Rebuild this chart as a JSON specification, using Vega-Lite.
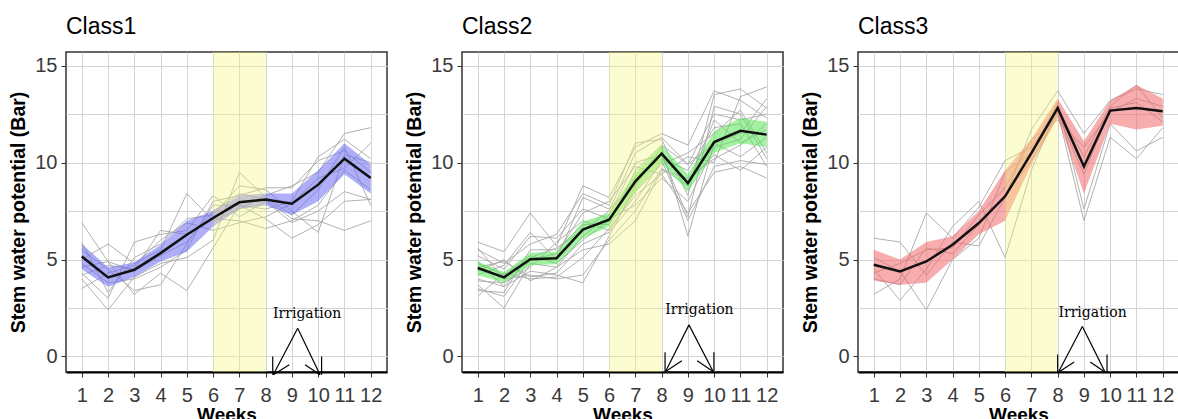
{
"$schema":"https://vega.github.io/schema/vega-lite/v6.json",
"background":"white",
"padding":{"left":8,"top":15,"right":0,"bottom":0},
"spacing":75,
"bounds":"flush",
"config":{
 "font":"Liberation Sans",
 "view":{"stroke":"#333333","strokeWidth":1.5},
 "title":{"fontSize":23,"fontWeight":"normal","color":"#000","anchor":"start","frame":"group","baseline":"bottom","offset":13,"font":"Liberation Sans"},
 "axisX":{"labelFontSize":20,"labelColor":"#3a3a3a","tickColor":"#333","tickSize":5,"labelPadding":8,"labelOverlap":false,"labelFlush":false,"titleFontSize":19,"titleFontWeight":"bold","titleColor":"#000","titlePadding":0,"gridColor":"#d4d4d4","domainColor":"#000","domainWidth":2},
 "axisY":{"labelFontSize":20,"labelColor":"#3a3a3a","tickColor":"#333","tickSize":5,"labelPadding":4,"titleFontSize":19.5,"titleFontWeight":"bold","titleColor":"#000","titlePadding":6,"gridColor":"#d4d4d4","domain":false}
},
"datasets":{"d":[
{"c":"Class1","k":"t","t":"a","w":1,"v":6.9},{"c":"Class1","k":"t","t":"a","w":2,"v":4.9},{"c":"Class1","k":"t","t":"a","w":3,"v":4.4},{"c":"Class1","k":"t","t":"a","w":4,"v":5.2},{"c":"Class1","k":"t","t":"a","w":5,"v":5.9},{"c":"Class1","k":"t","t":"a","w":6,"v":7.5},{"c":"Class1","k":"t","t":"a","w":7,"v":8.4},{"c":"Class1","k":"t","t":"a","w":8,"v":8.1},{"c":"Class1","k":"t","t":"a","w":9,"v":7.1},{"c":"Class1","k":"t","t":"a","w":10,"v":7.0},{"c":"Class1","k":"t","t":"a","w":11,"v":6.5},{"c":"Class1","k":"t","t":"a","w":12,"v":7.0},
{"c":"Class1","k":"t","t":"b","w":1,"v":5.0},{"c":"Class1","k":"t","t":"b","w":2,"v":5.8},{"c":"Class1","k":"t","t":"b","w":3,"v":4.8},{"c":"Class1","k":"t","t":"b","w":4,"v":5.5},{"c":"Class1","k":"t","t":"b","w":5,"v":8.4},{"c":"Class1","k":"t","t":"b","w":6,"v":7.0},{"c":"Class1","k":"t","t":"b","w":7,"v":7.6},{"c":"Class1","k":"t","t":"b","w":8,"v":8.3},{"c":"Class1","k":"t","t":"b","w":9,"v":8.8},{"c":"Class1","k":"t","t":"b","w":10,"v":9.5},{"c":"Class1","k":"t","t":"b","w":11,"v":11.5},{"c":"Class1","k":"t","t":"b","w":12,"v":11.8},
{"c":"Class1","k":"t","t":"c","w":1,"v":4.3},{"c":"Class1","k":"t","t":"c","w":2,"v":3.0},{"c":"Class1","k":"t","t":"c","w":3,"v":5.9},{"c":"Class1","k":"t","t":"c","w":4,"v":6.3},{"c":"Class1","k":"t","t":"c","w":5,"v":6.5},{"c":"Class1","k":"t","t":"c","w":6,"v":8.3},{"c":"Class1","k":"t","t":"c","w":7,"v":7.2},{"c":"Class1","k":"t","t":"c","w":8,"v":8.0},{"c":"Class1","k":"t","t":"c","w":9,"v":6.9},{"c":"Class1","k":"t","t":"c","w":10,"v":7.5},{"c":"Class1","k":"t","t":"c","w":11,"v":8.5},{"c":"Class1","k":"t","t":"c","w":12,"v":8.1},
{"c":"Class1","k":"t","t":"d","w":1,"v":4.0},{"c":"Class1","k":"t","t":"d","w":2,"v":2.4},{"c":"Class1","k":"t","t":"d","w":3,"v":4.1},{"c":"Class1","k":"t","t":"d","w":4,"v":4.8},{"c":"Class1","k":"t","t":"d","w":5,"v":5.1},{"c":"Class1","k":"t","t":"d","w":6,"v":6.0},{"c":"Class1","k":"t","t":"d","w":7,"v":9.5},{"c":"Class1","k":"t","t":"d","w":8,"v":8.2},{"c":"Class1","k":"t","t":"d","w":9,"v":7.3},{"c":"Class1","k":"t","t":"d","w":10,"v":8.6},{"c":"Class1","k":"t","t":"d","w":11,"v":10.8},{"c":"Class1","k":"t","t":"d","w":12,"v":7.8},
{"c":"Class1","k":"t","t":"e","w":1,"v":5.5},{"c":"Class1","k":"t","t":"e","w":2,"v":4.5},{"c":"Class1","k":"t","t":"e","w":3,"v":3.4},{"c":"Class1","k":"t","t":"e","w":4,"v":3.7},{"c":"Class1","k":"t","t":"e","w":5,"v":5.8},{"c":"Class1","k":"t","t":"e","w":6,"v":7.8},{"c":"Class1","k":"t","t":"e","w":7,"v":7.8},{"c":"Class1","k":"t","t":"e","w":8,"v":7.6},{"c":"Class1","k":"t","t":"e","w":9,"v":8.0},{"c":"Class1","k":"t","t":"e","w":10,"v":10.3},{"c":"Class1","k":"t","t":"e","w":11,"v":11.2},{"c":"Class1","k":"t","t":"e","w":12,"v":10.2},
{"c":"Class1","k":"t","t":"f","w":1,"v":4.6},{"c":"Class1","k":"t","t":"f","w":2,"v":4.9},{"c":"Class1","k":"t","t":"f","w":3,"v":3.2},{"c":"Class1","k":"t","t":"f","w":4,"v":4.3},{"c":"Class1","k":"t","t":"f","w":5,"v":3.4},{"c":"Class1","k":"t","t":"f","w":6,"v":5.6},{"c":"Class1","k":"t","t":"f","w":7,"v":7.8},{"c":"Class1","k":"t","t":"f","w":8,"v":7.1},{"c":"Class1","k":"t","t":"f","w":9,"v":6.1},{"c":"Class1","k":"t","t":"f","w":10,"v":6.8},{"c":"Class1","k":"t","t":"f","w":11,"v":8.0},{"c":"Class1","k":"t","t":"f","w":12,"v":8.1},
{"c":"Class1","k":"t","t":"g","w":1,"v":3.5},{"c":"Class1","k":"t","t":"g","w":2,"v":4.3},{"c":"Class1","k":"t","t":"g","w":3,"v":4.7},{"c":"Class1","k":"t","t":"g","w":4,"v":6.0},{"c":"Class1","k":"t","t":"g","w":5,"v":6.9},{"c":"Class1","k":"t","t":"g","w":6,"v":6.5},{"c":"Class1","k":"t","t":"g","w":7,"v":6.9},{"c":"Class1","k":"t","t":"g","w":8,"v":7.2},{"c":"Class1","k":"t","t":"g","w":9,"v":7.9},{"c":"Class1","k":"t","t":"g","w":10,"v":9.2},{"c":"Class1","k":"t","t":"g","w":11,"v":9.7},{"c":"Class1","k":"t","t":"g","w":12,"v":11.0},
{"c":"Class1","k":"t","t":"h","w":1,"v":5.9},{"c":"Class1","k":"t","t":"h","w":2,"v":3.3},{"c":"Class1","k":"t","t":"h","w":3,"v":5.1},{"c":"Class1","k":"t","t":"h","w":4,"v":5.8},{"c":"Class1","k":"t","t":"h","w":5,"v":7.1},{"c":"Class1","k":"t","t":"h","w":6,"v":7.3},{"c":"Class1","k":"t","t":"h","w":7,"v":8.8},{"c":"Class1","k":"t","t":"h","w":8,"v":8.6},{"c":"Class1","k":"t","t":"h","w":9,"v":7.5},{"c":"Class1","k":"t","t":"h","w":10,"v":6.4},{"c":"Class1","k":"t","t":"h","w":11,"v":10.4},{"c":"Class1","k":"t","t":"h","w":12,"v":10.0},
{"c":"Class1","k":"t","t":"i","w":1,"v":4.8},{"c":"Class1","k":"t","t":"i","w":2,"v":3.8},{"c":"Class1","k":"t","t":"i","w":3,"v":4.0},{"c":"Class1","k":"t","t":"i","w":4,"v":4.6},{"c":"Class1","k":"t","t":"i","w":5,"v":5.5},{"c":"Class1","k":"t","t":"i","w":6,"v":8.0},{"c":"Class1","k":"t","t":"i","w":7,"v":8.3},{"c":"Class1","k":"t","t":"i","w":8,"v":8.7},{"c":"Class1","k":"t","t":"i","w":9,"v":8.7},{"c":"Class1","k":"t","t":"i","w":10,"v":10.1},{"c":"Class1","k":"t","t":"i","w":11,"v":10.6},{"c":"Class1","k":"t","t":"i","w":12,"v":9.5},
{"c":"Class1","k":"t","t":"j","w":1,"v":4.2},{"c":"Class1","k":"t","t":"j","w":2,"v":4.7},{"c":"Class1","k":"t","t":"j","w":3,"v":4.5},{"c":"Class1","k":"t","t":"j","w":4,"v":6.5},{"c":"Class1","k":"t","t":"j","w":5,"v":6.3},{"c":"Class1","k":"t","t":"j","w":6,"v":7.1},{"c":"Class1","k":"t","t":"j","w":7,"v":7.0},{"c":"Class1","k":"t","t":"j","w":8,"v":6.6},{"c":"Class1","k":"t","t":"j","w":9,"v":7.0},{"c":"Class1","k":"t","t":"j","w":10,"v":7.8},{"c":"Class1","k":"t","t":"j","w":11,"v":9.6},{"c":"Class1","k":"t","t":"j","w":12,"v":8.6},
{"c":"Class2","k":"t","t":"a","w":1,"v":5.9},{"c":"Class2","k":"t","t":"a","w":2,"v":5.4},{"c":"Class2","k":"t","t":"a","w":3,"v":7.4},{"c":"Class2","k":"t","t":"a","w":4,"v":5.7},{"c":"Class2","k":"t","t":"a","w":5,"v":8.8},{"c":"Class2","k":"t","t":"a","w":6,"v":8.2},{"c":"Class2","k":"t","t":"a","w":7,"v":10.8},{"c":"Class2","k":"t","t":"a","w":8,"v":11.5},{"c":"Class2","k":"t","t":"a","w":9,"v":10.9},{"c":"Class2","k":"t","t":"a","w":10,"v":13.7},{"c":"Class2","k":"t","t":"a","w":11,"v":13.2},{"c":"Class2","k":"t","t":"a","w":12,"v":12.3},
{"c":"Class2","k":"t","t":"b","w":1,"v":5.5},{"c":"Class2","k":"t","t":"b","w":2,"v":4.8},{"c":"Class2","k":"t","t":"b","w":3,"v":5.8},{"c":"Class2","k":"t","t":"b","w":4,"v":6.3},{"c":"Class2","k":"t","t":"b","w":5,"v":8.4},{"c":"Class2","k":"t","t":"b","w":6,"v":7.8},{"c":"Class2","k":"t","t":"b","w":7,"v":11.0},{"c":"Class2","k":"t","t":"b","w":8,"v":11.2},{"c":"Class2","k":"t","t":"b","w":9,"v":8.3},{"c":"Class2","k":"t","t":"b","w":10,"v":13.5},{"c":"Class2","k":"t","t":"b","w":11,"v":13.8},{"c":"Class2","k":"t","t":"b","w":12,"v":12.8},
{"c":"Class2","k":"t","t":"c","w":1,"v":3.1},{"c":"Class2","k":"t","t":"c","w":2,"v":4.3},{"c":"Class2","k":"t","t":"c","w":3,"v":4.0},{"c":"Class2","k":"t","t":"c","w":4,"v":4.1},{"c":"Class2","k":"t","t":"c","w":5,"v":5.1},{"c":"Class2","k":"t","t":"c","w":6,"v":6.6},{"c":"Class2","k":"t","t":"c","w":7,"v":8.3},{"c":"Class2","k":"t","t":"c","w":8,"v":9.4},{"c":"Class2","k":"t","t":"c","w":9,"v":10.3},{"c":"Class2","k":"t","t":"c","w":10,"v":10.0},{"c":"Class2","k":"t","t":"c","w":11,"v":13.4},{"c":"Class2","k":"t","t":"c","w":12,"v":13.9},
{"c":"Class2","k":"t","t":"d","w":1,"v":3.7},{"c":"Class2","k":"t","t":"d","w":2,"v":2.5},{"c":"Class2","k":"t","t":"d","w":3,"v":4.8},{"c":"Class2","k":"t","t":"d","w":4,"v":4.6},{"c":"Class2","k":"t","t":"d","w":5,"v":6.2},{"c":"Class2","k":"t","t":"d","w":6,"v":7.3},{"c":"Class2","k":"t","t":"d","w":7,"v":10.0},{"c":"Class2","k":"t","t":"d","w":8,"v":10.4},{"c":"Class2","k":"t","t":"d","w":9,"v":7.2},{"c":"Class2","k":"t","t":"d","w":10,"v":12.9},{"c":"Class2","k":"t","t":"d","w":11,"v":12.5},{"c":"Class2","k":"t","t":"d","w":12,"v":10.2},
{"c":"Class2","k":"t","t":"e","w":1,"v":4.0},{"c":"Class2","k":"t","t":"e","w":2,"v":3.6},{"c":"Class2","k":"t","t":"e","w":3,"v":4.4},{"c":"Class2","k":"t","t":"e","w":4,"v":4.2},{"c":"Class2","k":"t","t":"e","w":5,"v":3.8},{"c":"Class2","k":"t","t":"e","w":6,"v":6.2},{"c":"Class2","k":"t","t":"e","w":7,"v":8.8},{"c":"Class2","k":"t","t":"e","w":8,"v":10.8},{"c":"Class2","k":"t","t":"e","w":9,"v":6.2},{"c":"Class2","k":"t","t":"e","w":10,"v":11.0},{"c":"Class2","k":"t","t":"e","w":11,"v":10.3},{"c":"Class2","k":"t","t":"e","w":12,"v":11.3},
{"c":"Class2","k":"t","t":"f","w":1,"v":4.8},{"c":"Class2","k":"t","t":"f","w":2,"v":4.2},{"c":"Class2","k":"t","t":"f","w":3,"v":5.2},{"c":"Class2","k":"t","t":"f","w":4,"v":4.8},{"c":"Class2","k":"t","t":"f","w":5,"v":6.0},{"c":"Class2","k":"t","t":"f","w":6,"v":7.0},{"c":"Class2","k":"t","t":"f","w":7,"v":9.3},{"c":"Class2","k":"t","t":"f","w":8,"v":10.2},{"c":"Class2","k":"t","t":"f","w":9,"v":9.6},{"c":"Class2","k":"t","t":"f","w":10,"v":11.8},{"c":"Class2","k":"t","t":"f","w":11,"v":12.0},{"c":"Class2","k":"t","t":"f","w":12,"v":9.8},
{"c":"Class2","k":"t","t":"g","w":1,"v":3.5},{"c":"Class2","k":"t","t":"g","w":2,"v":3.1},{"c":"Class2","k":"t","t":"g","w":3,"v":5.0},{"c":"Class2","k":"t","t":"g","w":4,"v":5.3},{"c":"Class2","k":"t","t":"g","w":5,"v":7.4},{"c":"Class2","k":"t","t":"g","w":6,"v":8.0},{"c":"Class2","k":"t","t":"g","w":7,"v":9.8},{"c":"Class2","k":"t","t":"g","w":8,"v":9.4},{"c":"Class2","k":"t","t":"g","w":9,"v":7.4},{"c":"Class2","k":"t","t":"g","w":10,"v":9.5},{"c":"Class2","k":"t","t":"g","w":11,"v":9.8},{"c":"Class2","k":"t","t":"g","w":12,"v":9.2},
{"c":"Class2","k":"t","t":"h","w":1,"v":5.2},{"c":"Class2","k":"t","t":"h","w":2,"v":4.5},{"c":"Class2","k":"t","t":"h","w":3,"v":6.2},{"c":"Class2","k":"t","t":"h","w":4,"v":6.1},{"c":"Class2","k":"t","t":"h","w":5,"v":7.6},{"c":"Class2","k":"t","t":"h","w":6,"v":7.1},{"c":"Class2","k":"t","t":"h","w":7,"v":7.8},{"c":"Class2","k":"t","t":"h","w":8,"v":9.2},{"c":"Class2","k":"t","t":"h","w":9,"v":8.0},{"c":"Class2","k":"t","t":"h","w":10,"v":10.8},{"c":"Class2","k":"t","t":"h","w":11,"v":11.2},{"c":"Class2","k":"t","t":"h","w":12,"v":12.9},
{"c":"Class2","k":"t","t":"i","w":1,"v":4.4},{"c":"Class2","k":"t","t":"i","w":2,"v":5.0},{"c":"Class2","k":"t","t":"i","w":3,"v":3.9},{"c":"Class2","k":"t","t":"i","w":4,"v":4.6},{"c":"Class2","k":"t","t":"i","w":5,"v":5.5},{"c":"Class2","k":"t","t":"i","w":6,"v":5.8},{"c":"Class2","k":"t","t":"i","w":7,"v":7.0},{"c":"Class2","k":"t","t":"i","w":8,"v":9.6},{"c":"Class2","k":"t","t":"i","w":9,"v":9.2},{"c":"Class2","k":"t","t":"i","w":10,"v":10.2},{"c":"Class2","k":"t","t":"i","w":11,"v":10.9},{"c":"Class2","k":"t","t":"i","w":12,"v":12.0},
{"c":"Class2","k":"t","t":"j","w":1,"v":3.9},{"c":"Class2","k":"t","t":"j","w":2,"v":3.8},{"c":"Class2","k":"t","t":"j","w":3,"v":4.6},{"c":"Class2","k":"t","t":"j","w":4,"v":5.9},{"c":"Class2","k":"t","t":"j","w":5,"v":7.0},{"c":"Class2","k":"t","t":"j","w":6,"v":6.5},{"c":"Class2","k":"t","t":"j","w":7,"v":8.5},{"c":"Class2","k":"t","t":"j","w":8,"v":9.9},{"c":"Class2","k":"t","t":"j","w":9,"v":10.5},{"c":"Class2","k":"t","t":"j","w":10,"v":11.5},{"c":"Class2","k":"t","t":"j","w":11,"v":12.7},{"c":"Class2","k":"t","t":"j","w":12,"v":10.5},
{"c":"Class2","k":"t","t":"k","w":1,"v":5.6},{"c":"Class2","k":"t","t":"k","w":2,"v":4.0},{"c":"Class2","k":"t","t":"k","w":3,"v":4.2},{"c":"Class2","k":"t","t":"k","w":4,"v":4.0},{"c":"Class2","k":"t","t":"k","w":5,"v":4.2},{"c":"Class2","k":"t","t":"k","w":6,"v":6.0},{"c":"Class2","k":"t","t":"k","w":7,"v":7.5},{"c":"Class2","k":"t","t":"k","w":8,"v":9.7},{"c":"Class2","k":"t","t":"k","w":9,"v":8.8},{"c":"Class2","k":"t","t":"k","w":10,"v":12.2},{"c":"Class2","k":"t","t":"k","w":11,"v":11.0},{"c":"Class2","k":"t","t":"k","w":12,"v":11.7},
{"c":"Class2","k":"t","t":"l","w":1,"v":4.2},{"c":"Class2","k":"t","t":"l","w":2,"v":4.7},{"c":"Class2","k":"t","t":"l","w":3,"v":6.4},{"c":"Class2","k":"t","t":"l","w":4,"v":5.0},{"c":"Class2","k":"t","t":"l","w":5,"v":8.2},{"c":"Class2","k":"t","t":"l","w":6,"v":7.6},{"c":"Class2","k":"t","t":"l","w":7,"v":8.9},{"c":"Class2","k":"t","t":"l","w":8,"v":10.5},{"c":"Class2","k":"t","t":"l","w":9,"v":9.0},{"c":"Class2","k":"t","t":"l","w":10,"v":10.4},{"c":"Class2","k":"t","t":"l","w":11,"v":9.6},{"c":"Class2","k":"t","t":"l","w":12,"v":10.8},
{"c":"Class2","k":"t","t":"m","w":1,"v":3.4},{"c":"Class2","k":"t","t":"m","w":2,"v":3.3},{"c":"Class2","k":"t","t":"m","w":3,"v":5.5},{"c":"Class2","k":"t","t":"m","w":4,"v":5.5},{"c":"Class2","k":"t","t":"m","w":5,"v":6.8},{"c":"Class2","k":"t","t":"m","w":6,"v":6.8},{"c":"Class2","k":"t","t":"m","w":7,"v":9.6},{"c":"Class2","k":"t","t":"m","w":8,"v":10.9},{"c":"Class2","k":"t","t":"m","w":9,"v":9.9},{"c":"Class2","k":"t","t":"m","w":10,"v":11.0},{"c":"Class2","k":"t","t":"m","w":11,"v":11.5},{"c":"Class2","k":"t","t":"m","w":12,"v":13.3},
{"c":"Class2","k":"t","t":"n","w":1,"v":4.6},{"c":"Class2","k":"t","t":"n","w":2,"v":4.9},{"c":"Class2","k":"t","t":"n","w":3,"v":4.1},{"c":"Class2","k":"t","t":"n","w":4,"v":4.3},{"c":"Class2","k":"t","t":"n","w":5,"v":5.8},{"c":"Class2","k":"t","t":"n","w":6,"v":6.4},{"c":"Class2","k":"t","t":"n","w":7,"v":8.0},{"c":"Class2","k":"t","t":"n","w":8,"v":10.1},{"c":"Class2","k":"t","t":"n","w":9,"v":7.0},{"c":"Class2","k":"t","t":"n","w":10,"v":9.8},{"c":"Class2","k":"t","t":"n","w":11,"v":10.1},{"c":"Class2","k":"t","t":"n","w":12,"v":9.9},
{"c":"Class2","k":"t","t":"o","w":1,"v":4.9},{"c":"Class2","k":"t","t":"o","w":2,"v":3.6},{"c":"Class2","k":"t","t":"o","w":3,"v":5.1},{"c":"Class2","k":"t","t":"o","w":4,"v":5.6},{"c":"Class2","k":"t","t":"o","w":5,"v":6.5},{"c":"Class2","k":"t","t":"o","w":6,"v":7.5},{"c":"Class2","k":"t","t":"o","w":7,"v":10.5},{"c":"Class2","k":"t","t":"o","w":8,"v":11.3},{"c":"Class2","k":"t","t":"o","w":9,"v":9.9},{"c":"Class2","k":"t","t":"o","w":10,"v":12.5},{"c":"Class2","k":"t","t":"o","w":11,"v":12.2},{"c":"Class2","k":"t","t":"o","w":12,"v":12.5},
{"c":"Class3","k":"t","t":"a","w":1,"v":6.1},{"c":"Class3","k":"t","t":"a","w":2,"v":5.9},{"c":"Class3","k":"t","t":"a","w":3,"v":4.2},{"c":"Class3","k":"t","t":"a","w":4,"v":5.9},{"c":"Class3","k":"t","t":"a","w":5,"v":5.7},{"c":"Class3","k":"t","t":"a","w":6,"v":8.2},{"c":"Class3","k":"t","t":"a","w":7,"v":11.7},{"c":"Class3","k":"t","t":"a","w":8,"v":13.7},{"c":"Class3","k":"t","t":"a","w":9,"v":11.5},{"c":"Class3","k":"t","t":"a","w":10,"v":13.2},{"c":"Class3","k":"t","t":"a","w":11,"v":13.8},{"c":"Class3","k":"t","t":"a","w":12,"v":13.5},
{"c":"Class3","k":"t","t":"b","w":1,"v":3.2},{"c":"Class3","k":"t","t":"b","w":2,"v":4.0},{"c":"Class3","k":"t","t":"b","w":3,"v":7.4},{"c":"Class3","k":"t","t":"b","w":4,"v":6.1},{"c":"Class3","k":"t","t":"b","w":5,"v":7.7},{"c":"Class3","k":"t","t":"b","w":6,"v":10.1},{"c":"Class3","k":"t","t":"b","w":7,"v":10.8},{"c":"Class3","k":"t","t":"b","w":8,"v":12.6},{"c":"Class3","k":"t","t":"b","w":9,"v":7.0},{"c":"Class3","k":"t","t":"b","w":10,"v":11.3},{"c":"Class3","k":"t","t":"b","w":11,"v":10.2},{"c":"Class3","k":"t","t":"b","w":12,"v":11.8},
{"c":"Class3","k":"t","t":"c","w":1,"v":4.5},{"c":"Class3","k":"t","t":"c","w":2,"v":2.9},{"c":"Class3","k":"t","t":"c","w":3,"v":4.5},{"c":"Class3","k":"t","t":"c","w":4,"v":6.7},{"c":"Class3","k":"t","t":"c","w":5,"v":8.0},{"c":"Class3","k":"t","t":"c","w":6,"v":5.1},{"c":"Class3","k":"t","t":"c","w":7,"v":9.6},{"c":"Class3","k":"t","t":"c","w":8,"v":12.8},{"c":"Class3","k":"t","t":"c","w":9,"v":10.3},{"c":"Class3","k":"t","t":"c","w":10,"v":12.9},{"c":"Class3","k":"t","t":"c","w":11,"v":14.0},{"c":"Class3","k":"t","t":"c","w":12,"v":12.3},
{"c":"Class3","k":"t","t":"d","w":1,"v":5.1},{"c":"Class3","k":"t","t":"d","w":2,"v":4.4},{"c":"Class3","k":"t","t":"d","w":3,"v":2.4},{"c":"Class3","k":"t","t":"d","w":4,"v":5.0},{"c":"Class3","k":"t","t":"d","w":5,"v":6.1},{"c":"Class3","k":"t","t":"d","w":6,"v":9.5},{"c":"Class3","k":"t","t":"d","w":7,"v":10.5},{"c":"Class3","k":"t","t":"d","w":8,"v":13.1},{"c":"Class3","k":"t","t":"d","w":9,"v":7.6},{"c":"Class3","k":"t","t":"d","w":10,"v":12.0},{"c":"Class3","k":"t","t":"d","w":11,"v":10.6},{"c":"Class3","k":"t","t":"d","w":12,"v":11.3},
{"c":"Class3","k":"t","t":"e","w":1,"v":4.3},{"c":"Class3","k":"t","t":"e","w":2,"v":4.8},{"c":"Class3","k":"t","t":"e","w":3,"v":5.5},{"c":"Class3","k":"t","t":"e","w":4,"v":5.6},{"c":"Class3","k":"t","t":"e","w":5,"v":7.3},{"c":"Class3","k":"t","t":"e","w":6,"v":8.7},{"c":"Class3","k":"t","t":"e","w":7,"v":11.2},{"c":"Class3","k":"t","t":"e","w":8,"v":12.2},{"c":"Class3","k":"t","t":"e","w":9,"v":10.8},{"c":"Class3","k":"t","t":"e","w":10,"v":12.6},{"c":"Class3","k":"t","t":"e","w":11,"v":13.3},{"c":"Class3","k":"t","t":"e","w":12,"v":12.9},
{"c":"Class3","k":"t","t":"f","w":1,"v":4.0},{"c":"Class3","k":"t","t":"f","w":2,"v":3.7},{"c":"Class3","k":"t","t":"f","w":3,"v":5.6},{"c":"Class3","k":"t","t":"f","w":4,"v":5.3},{"c":"Class3","k":"t","t":"f","w":5,"v":6.8},{"c":"Class3","k":"t","t":"f","w":6,"v":8.3},{"c":"Class3","k":"t","t":"f","w":7,"v":10.1},{"c":"Class3","k":"t","t":"f","w":8,"v":12.5},{"c":"Class3","k":"t","t":"f","w":9,"v":9.4},{"c":"Class3","k":"t","t":"f","w":10,"v":12.8},{"c":"Class3","k":"t","t":"f","w":11,"v":13.1},{"c":"Class3","k":"t","t":"f","w":12,"v":12.1},
{"c":"Class1","k":"m","w":1,"v":5.16,"lo":4.5,"hi":5.8},{"c":"Class1","k":"m","w":2,"v":4.08,"lo":3.6,"hi":4.6},{"c":"Class1","k":"m","w":3,"v":4.47,"lo":4.1,"hi":4.85},{"c":"Class1","k":"m","w":4,"v":5.33,"lo":4.9,"hi":5.75},{"c":"Class1","k":"m","w":5,"v":6.28,"lo":5.4,"hi":7.0},{"c":"Class1","k":"m","w":6,"v":7.14,"lo":6.7,"hi":7.5},{"c":"Class1","k":"m","w":7,"v":7.95,"lo":7.6,"hi":8.3},{"c":"Class1","k":"m","w":8,"v":8.09,"lo":7.8,"hi":8.4},{"c":"Class1","k":"m","w":9,"v":7.88,"lo":7.3,"hi":8.4},{"c":"Class1","k":"m","w":10,"v":8.86,"lo":8.0,"hi":9.6},{"c":"Class1","k":"m","w":11,"v":10.2,"lo":9.4,"hi":11.0},{"c":"Class1","k":"m","w":12,"v":9.2,"lo":8.4,"hi":9.9},
{"c":"Class2","k":"m","w":1,"v":4.56,"lo":4.2,"hi":4.9},{"c":"Class2","k":"m","w":2,"v":4.08,"lo":3.8,"hi":4.35},{"c":"Class2","k":"m","w":3,"v":5.02,"lo":4.7,"hi":5.35},{"c":"Class2","k":"m","w":4,"v":5.07,"lo":4.75,"hi":5.4},{"c":"Class2","k":"m","w":5,"v":6.54,"lo":6.1,"hi":6.95},{"c":"Class2","k":"m","w":6,"v":7.05,"lo":6.7,"hi":7.4},{"c":"Class2","k":"m","w":7,"v":9.03,"lo":8.5,"hi":9.5},{"c":"Class2","k":"m","w":8,"v":10.46,"lo":10.0,"hi":10.9},{"c":"Class2","k":"m","w":9,"v":8.94,"lo":8.5,"hi":9.4},{"c":"Class2","k":"m","w":10,"v":11.06,"lo":10.5,"hi":11.6},{"c":"Class2","k":"m","w":11,"v":11.64,"lo":11.0,"hi":12.3},{"c":"Class2","k":"m","w":12,"v":11.44,"lo":10.8,"hi":12.1},
{"c":"Class3","k":"m","w":1,"v":4.73,"lo":3.9,"hi":5.5},{"c":"Class3","k":"m","w":2,"v":4.39,"lo":3.7,"hi":5.0},{"c":"Class3","k":"m","w":3,"v":4.9,"lo":3.8,"hi":5.9},{"c":"Class3","k":"m","w":4,"v":5.76,"lo":5.0,"hi":6.2},{"c":"Class3","k":"m","w":5,"v":6.88,"lo":6.3,"hi":7.5},{"c":"Class3","k":"m","w":6,"v":8.26,"lo":7.0,"hi":9.6},{"c":"Class3","k":"m","w":7,"v":10.49,"lo":9.9,"hi":11.2},{"c":"Class3","k":"m","w":8,"v":12.81,"lo":12.3,"hi":13.3},{"c":"Class3","k":"m","w":9,"v":9.8,"lo":8.4,"hi":11.1},{"c":"Class3","k":"m","w":10,"v":12.68,"lo":12.0,"hi":13.2},{"c":"Class3","k":"m","w":11,"v":12.81,"lo":11.7,"hi":14.0},{"c":"Class3","k":"m","w":12,"v":12.64,"lo":11.9,"hi":13.3},
{"c":"Class1","k":"band","w":6,"w2":8},{"c":"Class2","k":"band","w":6,"w2":8},{"c":"Class3","k":"band","w":6,"w2":8},
{"c":"Class1","k":"ann","w":9.58,"v":1.98,"lbl":"Irrigation"},{"c":"Class2","k":"ann","w":9.44,"v":2.17,"lbl":"Irrigation"},{"c":"Class3","k":"ann","w":9.33,"v":2.06,"lbl":"Irrigation"},
{"c":"Class1","k":"arr","w":9.22,"v":1.46,"w2":8.29,"v2":-0.94},{"c":"Class1","k":"arr","w":9.22,"v":1.46,"w2":10.07,"v2":-0.94},{"c":"Class1","k":"arr","w":8.27,"v":0,"w2":8.27,"v2":-0.94},{"c":"Class1","k":"arr","w":10.13,"v":0,"w2":10.13,"v2":-0.94},{"c":"Class1","k":"arr","w":8.29,"v":-0.94,"w2":8.9,"v2":-0.43},{"c":"Class1","k":"arr","w":9.5,"v":-0.43,"w2":10.07,"v2":-0.94},
{"c":"Class2","k":"arr","w":9.04,"v":1.63,"w2":8.15,"v2":-0.77},{"c":"Class2","k":"arr","w":9.04,"v":1.63,"w2":9.96,"v2":-0.77},{"c":"Class2","k":"arr","w":8.13,"v":0.22,"w2":8.13,"v2":-0.77},{"c":"Class2","k":"arr","w":9.99,"v":0.22,"w2":9.99,"v2":-0.77},{"c":"Class2","k":"arr","w":8.15,"v":-0.77,"w2":8.77,"v2":-0.22},{"c":"Class2","k":"arr","w":9.35,"v":-0.22,"w2":9.96,"v2":-0.77},
{"c":"Class3","k":"arr","w":8.94,"v":1.55,"w2":8.03,"v2":-0.81},{"c":"Class3","k":"arr","w":8.94,"v":1.55,"w2":9.81,"v2":-0.81},{"c":"Class3","k":"arr","w":8.0,"v":0.1,"w2":8.0,"v2":-0.81},{"c":"Class3","k":"arr","w":9.88,"v":0.1,"w2":9.88,"v2":-0.81},{"c":"Class3","k":"arr","w":8.03,"v":-0.81,"w2":8.63,"v2":-0.29},{"c":"Class3","k":"arr","w":9.24,"v":-0.29,"w2":9.81,"v2":-0.81}
]},
"data":{"name":"d"},
"hconcat":[
{"title":"Class1","width":321,"height":320,
 "transform":[{"filter":"datum.c === 'Class1'"}],
 "layer":[
  {"transform":[{"filter":"datum.k === 't'"}],"mark":{"type":"line","color":"#a8a8a8","strokeWidth":1,"opacity":0.9},
   "encoding":{
    "x":{"field":"w","type":"quantitative","title":"Weeks","scale":{"domain":[0.4,12.62],"nice":false,"zero":false},"axis":{"values":[1,2,3,4,5,6,7,8,9,10,11,12],"tickCount":24,"format":"d","grid":true,"labelOverlap":false,"labelFlush":false}},
    "y":{"field":"v","type":"quantitative","title":"Stem water potential (Bar)","scale":{"domain":[-0.8,15.7],"nice":false,"zero":false},"axis":{"values":[0,2.5,5,7.5,10,12.5,15],"tickCount":14,"grid":true,"labelOverlap":false,"labelExpr":"datum.value % 5 === 0 ? datum.label : ''","tickOpacity":{"condition":{"test":"datum.value % 5 === 0","value":1},"value":0}}},
    "detail":{"field":"t","type":"nominal"}}},
  {"transform":[{"filter":"datum.k === 'm'"}],"mark":{"type":"area","opacity":0.55,"color":"#6e6ef4"},
   "encoding":{"x":{"field":"w","type":"quantitative","title":"Weeks"},"y":{"field":"lo","type":"quantitative","title":"Stem water potential (Bar)"},"y2":{"field":"hi"}}},
  {"transform":[{"filter":"datum.k === 'band'"}],"mark":{"type":"rect","color":"#f5f57a","opacity":0.35},
   "encoding":{"x":{"field":"w","type":"quantitative","title":"Weeks"},"x2":{"field":"w2"}}},
  {"transform":[{"filter":"datum.k === 'm'"}],"mark":{"type":"line","color":"#111111","strokeWidth":2.5},
   "encoding":{"x":{"field":"w","type":"quantitative","title":"Weeks"},"y":{"field":"v","type":"quantitative","title":"Stem water potential (Bar)"}}},
  {"transform":[{"filter":"datum.k === 'arr'"}],"mark":{"type":"rule","color":"#000000","strokeWidth":1.2},
   "encoding":{"x":{"field":"w","type":"quantitative","title":"Weeks"},"y":{"field":"v","type":"quantitative","title":"Stem water potential (Bar)"},"x2":{"field":"w2"},"y2":{"field":"v2"}}},
  {"transform":[{"filter":"datum.k === 'ann'"}],"mark":{"type":"text","font":"DejaVu Serif","fontSize":14,"align":"center","baseline":"alphabetic","color":"#000"},
   "encoding":{"x":{"field":"w","type":"quantitative","title":"Weeks"},"y":{"field":"v","type":"quantitative","title":"Stem water potential (Bar)"},"text":{"field":"lbl"}}}
 ]},
{"title":"Class2","width":321,"height":320,
 "transform":[{"filter":"datum.c === 'Class2'"}],
 "layer":[
  {"transform":[{"filter":"datum.k === 't'"}],"mark":{"type":"line","color":"#a8a8a8","strokeWidth":1,"opacity":0.9},
   "encoding":{
    "x":{"field":"w","type":"quantitative","title":"Weeks","scale":{"domain":[0.4,12.62],"nice":false,"zero":false},"axis":{"values":[1,2,3,4,5,6,7,8,9,10,11,12],"tickCount":24,"format":"d","grid":true,"labelOverlap":false,"labelFlush":false}},
    "y":{"field":"v","type":"quantitative","title":"Stem water potential (Bar)","scale":{"domain":[-0.8,15.7],"nice":false,"zero":false},"axis":{"values":[0,2.5,5,7.5,10,12.5,15],"tickCount":14,"grid":true,"labelOverlap":false,"labelExpr":"datum.value % 5 === 0 ? datum.label : ''","tickOpacity":{"condition":{"test":"datum.value % 5 === 0","value":1},"value":0}}},
    "detail":{"field":"t","type":"nominal"}}},
  {"transform":[{"filter":"datum.k === 'm'"}],"mark":{"type":"area","opacity":0.55,"color":"#5ae65a"},
   "encoding":{"x":{"field":"w","type":"quantitative","title":"Weeks"},"y":{"field":"lo","type":"quantitative","title":"Stem water potential (Bar)"},"y2":{"field":"hi"}}},
  {"transform":[{"filter":"datum.k === 'band'"}],"mark":{"type":"rect","color":"#f5f57a","opacity":0.35},
   "encoding":{"x":{"field":"w","type":"quantitative","title":"Weeks"},"x2":{"field":"w2"}}},
  {"transform":[{"filter":"datum.k === 'm'"}],"mark":{"type":"line","color":"#111111","strokeWidth":2.5},
   "encoding":{"x":{"field":"w","type":"quantitative","title":"Weeks"},"y":{"field":"v","type":"quantitative","title":"Stem water potential (Bar)"}}},
  {"transform":[{"filter":"datum.k === 'arr'"}],"mark":{"type":"rule","color":"#000000","strokeWidth":1.2},
   "encoding":{"x":{"field":"w","type":"quantitative","title":"Weeks"},"y":{"field":"v","type":"quantitative","title":"Stem water potential (Bar)"},"x2":{"field":"w2"},"y2":{"field":"v2"}}},
  {"transform":[{"filter":"datum.k === 'ann'"}],"mark":{"type":"text","font":"DejaVu Serif","fontSize":14,"align":"center","baseline":"alphabetic","color":"#000"},
   "encoding":{"x":{"field":"w","type":"quantitative","title":"Weeks"},"y":{"field":"v","type":"quantitative","title":"Stem water potential (Bar)"},"text":{"field":"lbl"}}}
 ]},
{"title":"Class3","width":321,"height":320,
 "transform":[{"filter":"datum.c === 'Class3'"}],
 "layer":[
  {"transform":[{"filter":"datum.k === 't'"}],"mark":{"type":"line","color":"#a8a8a8","strokeWidth":1,"opacity":0.9},
   "encoding":{
    "x":{"field":"w","type":"quantitative","title":"Weeks","scale":{"domain":[0.4,12.62],"nice":false,"zero":false},"axis":{"values":[1,2,3,4,5,6,7,8,9,10,11,12],"tickCount":24,"format":"d","grid":true,"labelOverlap":false,"labelFlush":false}},
    "y":{"field":"v","type":"quantitative","title":"Stem water potential (Bar)","scale":{"domain":[-0.8,15.7],"nice":false,"zero":false},"axis":{"values":[0,2.5,5,7.5,10,12.5,15],"tickCount":14,"grid":true,"labelOverlap":false,"labelExpr":"datum.value % 5 === 0 ? datum.label : ''","tickOpacity":{"condition":{"test":"datum.value % 5 === 0","value":1},"value":0}}},
    "detail":{"field":"t","type":"nominal"}}},
  {"transform":[{"filter":"datum.k === 'm'"}],"mark":{"type":"area","opacity":0.55,"color":"#f06a6a"},
   "encoding":{"x":{"field":"w","type":"quantitative","title":"Weeks"},"y":{"field":"lo","type":"quantitative","title":"Stem water potential (Bar)"},"y2":{"field":"hi"}}},
  {"transform":[{"filter":"datum.k === 'band'"}],"mark":{"type":"rect","color":"#f5f57a","opacity":0.35},
   "encoding":{"x":{"field":"w","type":"quantitative","title":"Weeks"},"x2":{"field":"w2"}}},
  {"transform":[{"filter":"datum.k === 'm'"}],"mark":{"type":"line","color":"#111111","strokeWidth":2.5},
   "encoding":{"x":{"field":"w","type":"quantitative","title":"Weeks"},"y":{"field":"v","type":"quantitative","title":"Stem water potential (Bar)"}}},
  {"transform":[{"filter":"datum.k === 'arr'"}],"mark":{"type":"rule","color":"#000000","strokeWidth":1.2},
   "encoding":{"x":{"field":"w","type":"quantitative","title":"Weeks"},"y":{"field":"v","type":"quantitative","title":"Stem water potential (Bar)"},"x2":{"field":"w2"},"y2":{"field":"v2"}}},
  {"transform":[{"filter":"datum.k === 'ann'"}],"mark":{"type":"text","font":"DejaVu Serif","fontSize":14,"align":"center","baseline":"alphabetic","color":"#000"},
   "encoding":{"x":{"field":"w","type":"quantitative","title":"Weeks"},"y":{"field":"v","type":"quantitative","title":"Stem water potential (Bar)"},"text":{"field":"lbl"}}}
 ]}
]
}
